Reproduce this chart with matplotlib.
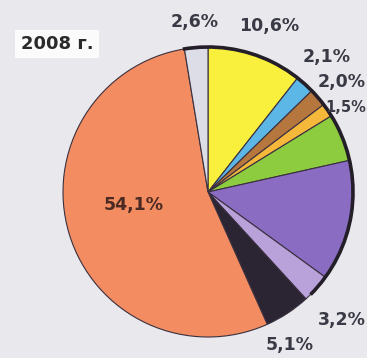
import matplotlib
matplotlib.use('Agg')
import matplotlib.pyplot as plt
from matplotlib.patches import Arc

# shares for 2008, clockwise from 12 o'clock
values = [10.6, 2.1, 2.0, 1.5, 5.3, 13.5, 3.2, 5.1, 54.1, 2.6]
colors = ['#f8f03c', '#5cb6e6', '#b5773d', '#f6b83a', '#8dcb3f',
          '#8b6cc3', '#b9a2d9', '#2b2432', '#f38c60', '#dcdde6']
labels = ['10,6%', '2,1%', '2,0%', '1,5%', '', '', '3,2%', '5,1%', '54,1%', '2,6%']
label_pos = [(269, 332), (327, 301), (345, 276), (357, 251), None, None,
             (343, 38), (290, 13), (134, 153), (195, 336)]
title = '2008 г.'

fig = plt.figure(figsize=(3.67, 3.58), dpi=100)
fig.patch.set_facecolor('#e9e9ed')
ax = fig.add_axes([0, 0, 1, 1])

cx, cy, r = 208, 166, 145
ax.pie(values, colors=colors, startangle=90, counterclock=False,
       center=(cx, cy), radius=r, frame=True,
       wedgeprops=dict(edgecolor='#3a3040', linewidth=0.8))
ax.set_xlim(0, 367)
ax.set_ylim(0, 358)
ax.set_aspect('equal')
ax.axis('off')

# darker rim on the upper right
ax.add_patch(Arc((cx, cy), 2 * r, 2 * r, theta1=-45, theta2=100,
                 color='#231e28', lw=2.6, zorder=5))

for lab, pos in zip(labels, label_pos):
    if not lab:
        continue
    col = '#4a2a22' if lab == '54,1%' else '#3a3a46'
    x, y = pos
    ha = 'center'
    size = 12.5
    if x > 340:
        x, ha = 366, 'right'
    if lab == '1,5%':
        size = 10.5
    ax.text(x, y, lab, fontsize=size, fontweight='bold', zorder=6,
            color=col, ha=ha, va='center', family='DejaVu Sans')

ax.text(57, 314, title, fontsize=13, fontweight='bold', color='#2a2a2a',
        ha='center', va='center', family='DejaVu Sans',
        bbox=dict(boxstyle='square,pad=0.3', fc='#fbfbfb', ec='none'))

fig.savefig('out.png', dpi=100, facecolor=fig.get_facecolor())
